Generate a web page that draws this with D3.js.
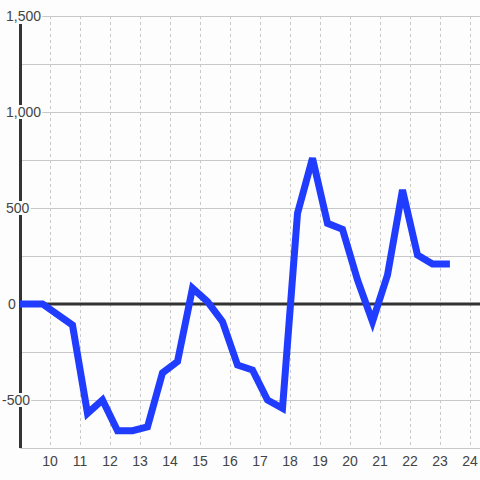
<!DOCTYPE html>
<html><head><meta charset="utf-8">
<script src="https://cdn.jsdelivr.net/npm/d3@7"></script>
<style>html,body{margin:0;padding:0;background:#fcfdfc;}svg{display:block;}</style>
</head><body>
<script>
const xValues = [9, 9.75, 10.75, 11.25, 11.75, 12.25, 12.75, 13.25, 13.75, 14.25, 14.75, 15.25, 15.75, 16.25, 16.75, 17.25, 17.75, 18.25, 18.75, 19.25, 19.75, 20.25, 20.75, 21.25, 21.75, 22.25, 22.75, 23.33];
const yValues = [0, 0, -110, -570, -500, -660, -660, -640, -359, -300, 82, 12, -92, -318, -344, -500, -543, 472, 759, 420, 389, 125, -92, 151, 594, 255, 208, 208];
const xTicks = [10, 11, 12, 13, 14, 15, 16, 17, 18, 19, 20, 21, 22, 23, 24];
const yTicks = [-500, 0, 500, 1000, 1500];
const yGrid = [-750, -500, -250, 0, 250, 500, 750, 1000, 1250, 1500];

const W = 480, H = 480;
const svg = d3.select("body").append("svg").attr("width", W).attr("height", H);
svg.append("rect").attr("width", W).attr("height", H).attr("fill", "#fcfdfc");

const x = d3.scaleLinear().domain([9, 24 + 1/3]).range([20, 480]);
const y = d3.scaleLinear().domain([-750, 1500]).range([448, 16]);

// horizontal grid
svg.append("g").selectAll("line").data(yGrid).join("line")
  .attr("x1", x(9)).attr("x2", 480)
  .attr("y1", d => Math.round(y(d)) + 0.5).attr("y2", d => Math.round(y(d)) + 0.5)
  .attr("stroke", "#c8c8c8").attr("stroke-width", 1);

// vertical dashed grid
svg.append("g").selectAll("line").data(xTicks).join("line")
  .attr("x1", d => Math.round(x(d)) + 0.5).attr("x2", d => Math.round(x(d)) + 0.5)
  .attr("y1", y(1500)).attr("y2", y(-750))
  .attr("stroke", "#c8c8c8").attr("stroke-width", 1).attr("stroke-dasharray", "3,3");

// left axis line
svg.append("line")
  .attr("x1", 20.5).attr("x2", 20.5)
  .attr("y1", y(1500) + 8).attr("y2", y(-750))
  .attr("stroke", "#333").attr("stroke-width", 3);

// zero line
svg.append("line")
  .attr("x1", x(9)).attr("x2", 480)
  .attr("y1", y(0)).attr("y2", y(0))
  .attr("stroke", "#333").attr("stroke-width", 3);

// y labels with background
const fmt = d3.format(",");
const yl = svg.append("g").attr("font-family", "Liberation Sans, Arial, sans-serif").attr("font-size", 14).attr("fill", "#444");
yTicks.forEach(d => {
  const t = yl.append("text")
    .attr("x", d < 0 ? 2 : (d === 0 ? 8 : 6))
    .attr("y", y(d) + 5)
    .text(fmt(d).replace("−", "-"));
  const bb = t.node().getBBox();
  yl.insert("rect", "text")
    .attr("x", bb.x - 1).attr("y", bb.y + 1).attr("width", bb.width + 2).attr("height", bb.height - 2)
    .attr("fill", "#fcfdfc");
});

// x labels
svg.append("g").selectAll("text").data(xTicks).join("text")
  .attr("x", d => x(d)).attr("y", 466)
  .attr("text-anchor", "middle")
  .attr("font-family", "Liberation Sans, Arial, sans-serif").attr("font-size", 14).attr("fill", "#444")
  .text(d => d);

// line
const line = d3.line().x((d, i) => x(xValues[i])).y(d => y(d));
svg.append("path").datum(yValues)
  .attr("d", line)
  .attr("fill", "none")
  .attr("stroke", "#1f3cff")
  .attr("stroke-width", 7)
  .attr("stroke-linejoin", "miter");
</script>
</body></html>
